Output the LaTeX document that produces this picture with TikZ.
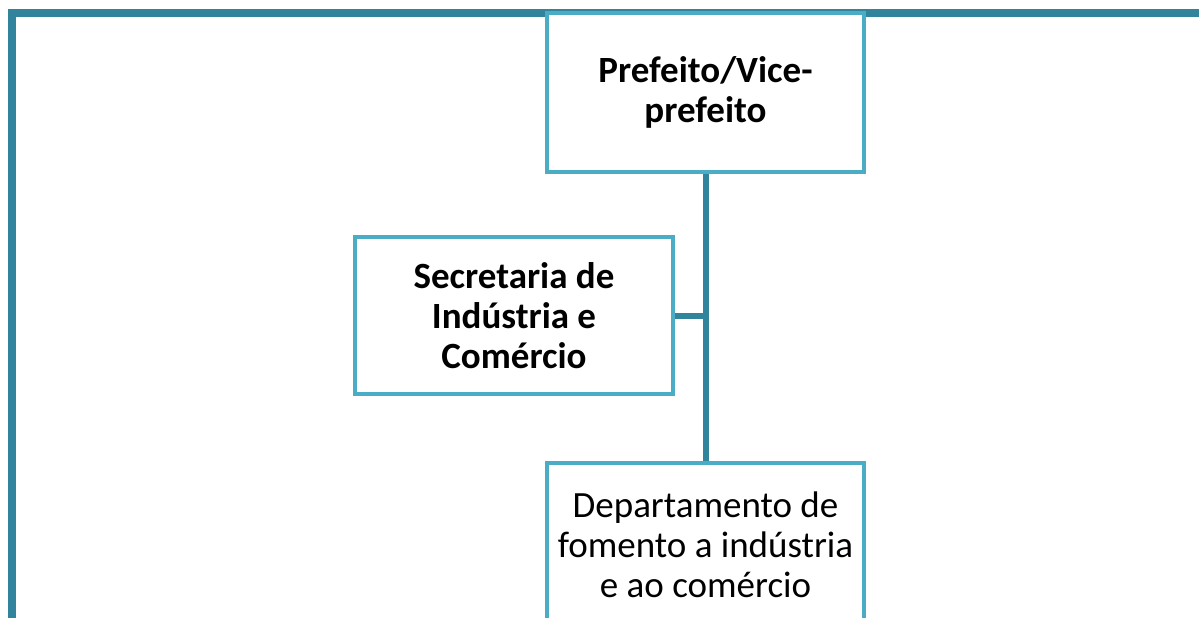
\documentclass[tikz,border=0pt]{standalone}
\usepackage{fontspec}
\setmainfont{Carlito}
\usetikzlibrary{calc}

\definecolor{frameteal}{HTML}{31849B}
\definecolor{boxblue}{HTML}{4BACC6}

\begin{document}
\begin{tikzpicture}[x=0.5pt,y=-0.5pt,
    orgbox/.style={draw=boxblue,line width=2pt,fill=white,
      minimum width=158.5pt,inner sep=0pt,align=center,
      font=\fontsize{18.5}{20}\selectfont},
    framebar/.style={draw=frameteal,line width=4pt},
    link/.style={draw=frameteal,line width=3pt}]
    \useasboundingbox (0,0) rectangle (1199,617);
    \clip (0,0) rectangle (1199,617);

    \draw[framebar] (12,640) -- (12,13) -- (1210,13);

    \node[orgbox, minimum height=79.5pt, font=\fontsize{18.5}{20}\selectfont\bfseries]
        at (705.5,92.5) (prefeito) {Prefeito/Vice-\\prefeito};
    \node[orgbox, minimum width=159pt, minimum height=78.5pt,
        font=\fontsize{18.5}{20}\selectfont\bfseries]
        at (514,315.5) (secretaria) {Secretaria de\\Indústria e\\Comércio};
    \node[orgbox, minimum height=82pt] at (705.5,545) (depto)
        {Departamento de\\fomento a indústria\\e ao comércio};

    \draw[link] (prefeito.south) -- (depto.north);
    \draw[link] (secretaria.east) -- (secretaria.east -| prefeito.south);
\end{tikzpicture}
\end{document}
